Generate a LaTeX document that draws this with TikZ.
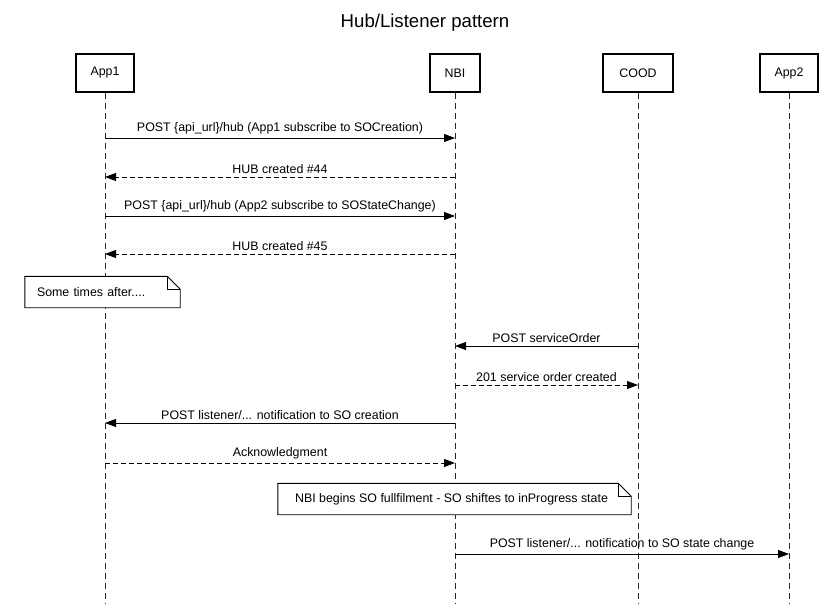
\documentclass[tikz,border=0pt]{standalone}
\usepackage{fontspec}
\setmainfont{Liberation Sans}
\usetikzlibrary{arrows.meta,calc,positioning}

\tikzset{
  actor/.style={draw,line width=1.4pt,minimum height=38pt,minimum width=58pt,inner xsep=4pt,font=\fontsize{12.4}{14}\selectfont},
  lifeline/.style={draw=black!85,line width=0.8pt,dash pattern=on 6pt off 4pt},
  msg/.style={line width=0.9pt,-{Triangle[length=11pt,width=8pt]}},
  reply/.style={msg,dash pattern=on 5pt off 3pt},
  lbl/.style={above=1pt,font=\fontsize{12.4}{14}\selectfont,inner sep=2pt},
  note/.style={fill=white,font=\fontsize{12.4}{14}\selectfont,minimum height=31pt,inner sep=0pt}
}
\newcommand{\foldnote}[1]{%
  \draw[line width=0.9pt] (#1.north west) -- ($(#1.north east)+(-13,0)$) -- ($(#1.north east)+(0,13)$)
    -- (#1.south east) -- (#1.south west) -- cycle;
  \draw[line width=0.9pt] ($(#1.north east)+(-13,0)$) |- ($(#1.north east)+(0,13)$);}

\begin{document}
\begin{tikzpicture}[x=1pt,y=-1pt]
\useasboundingbox (0,0) rectangle (836,615);

% title
\node[font=\fontsize{18.6}{21}\selectfont] (title) at (425,23) {Hub/Listener pattern};

% participants
\node[actor] (app1) at (105,73) {App1};
\node[actor,minimum width=50pt] (nbi) at (455,73) {NBI};
\node[actor,minimum width=70pt] (cood) at (638,73) {COOD};
\node[actor] (app2) at (789,73) {App2};

\foreach \p in {app1,nbi,cood,app2} {
  \coordinate (\p end) at (\p.south |- 0,603);
  \draw[lifeline] (\p.south) -- (\p end);
}

% messages
\draw[msg] (app1 |- 0,138) -- node[lbl] {POST \{api\_url\}/hub (App1 subscribe to SOCreation)} (nbi |- 0,138);
\draw[reply] (nbi |- 0,177) -- node[lbl] {HUB created \#44} (app1 |- 0,177);
\draw[msg] (app1 |- 0,216) -- node[lbl] {POST \{api\_url\}/hub (App2 subscribe to SOStateChange)} (nbi |- 0,216);
\draw[reply] (nbi |- 0,254) -- node[lbl] {HUB created \#45} (app1 |- 0,254);

\node[note,minimum width=155pt,text width=155pt,align=left] (wait) at (102.5,292) {\hspace*{12pt}Some times after....};
\foldnote{wait}

\draw[msg] (cood |- 0,346) -- node[lbl] {POST serviceOrder} (nbi |- 0,346);
\draw[reply] (nbi |- 0,385) -- node[lbl] {201 service order created} (cood |- 0,385);
\draw[msg] (nbi |- 0,423) -- node[lbl] {POST listener/... notification to SO creation} (app1 |- 0,423);
\draw[reply] (app1 |- 0,463) -- node[lbl] {Acknowledgment} (nbi |- 0,463);

\node[note,minimum width=353pt] (fulfil) at (454.5,499) {NBI begins SO fullfilment - SO shiftes to inProgress state\hspace*{6pt}};
\foldnote{fulfil}

\draw[msg] (nbi |- 0,554) -- node[lbl] {POST listener/... notification to SO state change} (app2 |- 0,554);
\end{tikzpicture}
\end{document}
